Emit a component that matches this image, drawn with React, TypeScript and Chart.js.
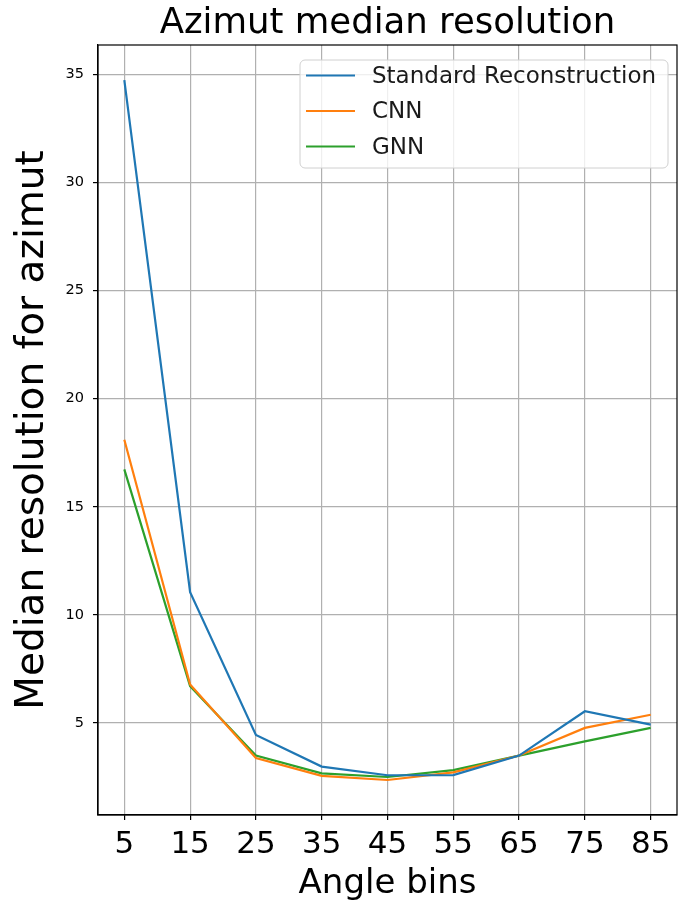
import React, { useEffect, useRef } from "react";
import { Chart, registerables } from "chart.js";

Chart.register(...registerables);

const angleBins = [5, 15, 25, 35, 45, 55, 65, 75, 85];
const standardReco = [34.74, 11.05, 4.44, 2.98, 2.58, 2.59, 3.49, 5.54, 4.92];
const cnnValues = [18.1, 6.78, 3.38, 2.55, 2.36, 2.71, 3.49, 4.77, 5.38];
const gnnValues = [16.73, 6.7, 3.49, 2.67, 2.5, 2.82, 3.49, 4.15, 4.77];
const yTicks = [5, 10, 15, 20, 25, 30, 35];
const seriesLabels = ["Standard Reconstruction", "CNN", "GNN"];
const seriesColors = ["#1f77b4", "#ff7f0e", "#2ca02c"];
const titleText = "Azimut median resolution";
const xTitle = "Angle bins";
const yTitle = "Median resolution for azimut";

const FONT = "'DejaVu Sans', sans-serif";

const framePlugin = {
  id: "frame",
  afterDatasetsDraw(chart: any) {
    const { ctx, chartArea } = chart;
    ctx.save();
    ctx.strokeStyle = "#000";
    ctx.lineWidth = 1.2;
    ctx.strokeRect(chartArea.left, chartArea.top, chartArea.right - chartArea.left, chartArea.bottom - chartArea.top);
    ctx.restore();
  },
};

const titlePlugin = {
  id: "mplTitle",
  afterDraw(chart: any) {
    const { ctx, chartArea } = chart;
    ctx.save();
    ctx.font = `35.5px ${FONT}`;
    ctx.fillStyle = "#000";
    ctx.textAlign = "center";
    ctx.textBaseline = "middle";
    ctx.fillText(titleText, (chartArea.left + chartArea.right) / 2, 23.5);
    ctx.restore();
  },
};

const legendPlugin = {
  id: "mplLegend",
  afterDatasetsDraw(chart: any) {
    const { ctx } = chart;
    const x0 = 300, y0 = 60, w = 368, h = 108, r = 5;
    ctx.save();
    ctx.beginPath();
    ctx.roundRect(x0, y0, w, h, r);
    ctx.fillStyle = "rgba(255,255,255,0.8)";
    ctx.fill();
    ctx.strokeStyle = "#d0d0d0";
    ctx.lineWidth = 1;
    ctx.stroke();
    ctx.font = `23px ${FONT}`;
    ctx.textBaseline = "middle";
    ctx.textAlign = "left";
    chart.data.datasets.forEach((ds: any, i: number) => {
      const y = 75.5 + i * 35.5;
      ctx.strokeStyle = ds.borderColor;
      ctx.lineWidth = 2.2;
      ctx.beginPath();
      ctx.moveTo(306, y);
      ctx.lineTo(355, y);
      ctx.stroke();
      ctx.fillStyle = "#1a1a1a";
      ctx.fillText(ds.label, 372, y + 1.5);
    });
    ctx.restore();
  },
};

export default function App() {
  const canvasRef = useRef<HTMLCanvasElement | null>(null);

  useEffect(() => {
    document.body.style.margin = "0";
    const canvas = canvasRef.current;
    if (!canvas) return;
    const seriesData = [standardReco, cnnValues, gnnValues];
    const chart = new Chart(canvas, {
      type: "line",
      data: {
        datasets: seriesData.map((vals, i) => ({
          label: seriesLabels[i],
          data: angleBins.map((x, j) => ({ x, y: vals[j] })),
          borderColor: seriesColors[i],
          backgroundColor: seriesColors[i],
          borderWidth: 2.2,
          pointRadius: 0,
          tension: 0,
          fill: false,
        })),
      },
      options: {
        responsive: false,
        animation: false,
        devicePixelRatio: 1,
        layout: { padding: { left: 0, right: 2, top: 45, bottom: 0 } },
        plugins: {
          legend: { display: false },
          title: { display: false },
          tooltip: { enabled: false },
        },
        scales: {
          x: {
            type: "linear",
            min: 1,
            max: 89,
            afterBuildTicks: (scale: any) => {
              scale.ticks = angleBins.map((v) => ({ value: v }));
            },
            afterFit: (scale: any) => {
              scale.height = 88;
            },
            ticks: {
              color: "#000",
              font: { family: FONT, size: 31 },
              padding: 6,
              maxRotation: 0,
              autoSkip: false,
              callback: (v: any) => String(v),
            },
            grid: {
              color: "#b0b0b0",
              lineWidth: 1.2,
              tickColor: "#000",
              tickLength: 5,
              drawTicks: true,
            },
            border: { display: true, color: "#000", width: 1.2 },
            title: {
              display: true,
              text: xTitle,
              color: "#000",
              font: { family: FONT, size: 34 },
              padding: { top: 0, bottom: -2 },
            },
          },
          y: {
            type: "linear",
            min: 0.741,
            max: 36.36,
            afterBuildTicks: (scale: any) => {
              scale.ticks = yTicks.map((v) => ({ value: v }));
            },
            afterFit: (scale: any) => {
              scale.width = 98;
            },
            ticks: {
              color: "#000",
              font: { family: FONT, size: 14.5 },
              padding: 9,
              autoSkip: false,
              callback: (v: any) => String(v),
            },
            grid: {
              color: "#b0b0b0",
              lineWidth: 1.2,
              tickColor: "#000",
              tickLength: 5,
              drawTicks: true,
            },
            border: { display: true, color: "#000", width: 1.2 },
            title: {
              display: true,
              text: yTitle,
              color: "#000",
              font: { family: FONT, size: 39 },
              padding: { top: 9, bottom: 0 },
            },
          },
        },
      },
      plugins: [framePlugin, legendPlugin, titlePlugin],
    });
    return () => chart.destroy();
  }, []);

  return (
    <div style={{ width: 679, height: 903 }}>
      <canvas ref={canvasRef} width={679} height={903} />
    </div>
  );
}
